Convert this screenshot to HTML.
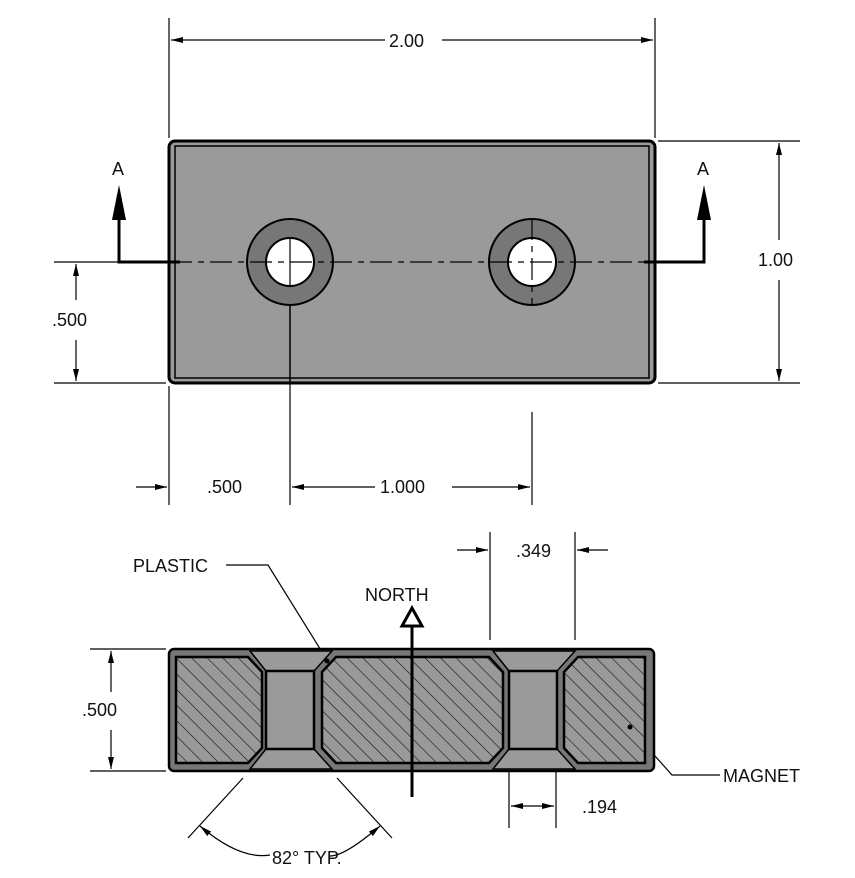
<!DOCTYPE html>
<html><head><style>body{margin:0;background:#fff}svg{display:block}text{font-family:"Liberation Sans",sans-serif;font-size:18px;fill:#111}</style></head><body>
<svg width="855" height="878" viewBox="0 0 855 878" xmlns="http://www.w3.org/2000/svg">
<defs>
<marker id="ar" viewBox="0 0 12 6" refX="12" refY="3" markerWidth="12" markerHeight="6" orient="auto-start-reverse" markerUnits="userSpaceOnUse"><path d="M0,0L12,3L0,6z" fill="#000"/></marker>
<pattern id="h" patternUnits="userSpaceOnUse" width="11" height="11" patternTransform="rotate(-45)"><rect width="11" height="11" fill="#999"/><line x1="0" y1="0" x2="0" y2="11" stroke="#111" stroke-width="1.2"/></pattern>
</defs>
<g stroke="#000" fill="none" stroke-width="1.2">
<line x1="169" y1="18" x2="169" y2="138"/><line x1="655" y1="18" x2="655" y2="138"/>
<line x1="171" y1="40" x2="385" y2="40" marker-start="url(#ar)"/><line x1="442" y1="40" x2="653" y2="40" marker-end="url(#ar)"/>
<line x1="658" y1="141" x2="800" y2="141"/><line x1="658" y1="383" x2="800" y2="383"/>
<line x1="779" y1="143" x2="779" y2="240" marker-start="url(#ar)"/><line x1="779" y1="280" x2="779" y2="381" marker-end="url(#ar)"/>
<line x1="54" y1="262" x2="166" y2="262"/><line x1="54" y1="383" x2="166" y2="383"/>
<line x1="76" y1="264" x2="76" y2="300" marker-start="url(#ar)"/><line x1="76" y1="340" x2="76" y2="381" marker-end="url(#ar)"/>
<line x1="169" y1="386" x2="169" y2="505"/><line x1="290" y1="305" x2="290" y2="505"/><line x1="532" y1="412" x2="532" y2="505"/>
<line x1="136" y1="487" x2="167" y2="487" marker-end="url(#ar)"/>
<line x1="292" y1="487" x2="375" y2="487" marker-start="url(#ar)"/><line x1="452" y1="487" x2="530" y2="487" marker-end="url(#ar)"/>
</g>
<rect x="169" y="141" width="486" height="242" rx="6" fill="#9a9a9a" stroke="#000" stroke-width="3"/>
<rect x="175" y="146" width="474" height="232" fill="none" stroke="#000" stroke-width="1.5"/>
<g stroke="#000" stroke-width="2">
<circle cx="290" cy="262" r="43" fill="#777"/><circle cx="290" cy="262" r="24" fill="#fff"/>
<circle cx="532" cy="262" r="43" fill="#777"/><circle cx="532" cy="262" r="24" fill="#fff"/>
</g>
<line x1="170" y1="262" x2="655" y2="262" stroke="#000" stroke-width="1.2" stroke-dasharray="22,6,6,6"/>
<line x1="290" y1="238" x2="290" y2="286" stroke="#000" stroke-width="1.2"/><line x1="532" y1="218" x2="532" y2="306" stroke="#000" stroke-width="1.2" stroke-dasharray="22,6,6,6"/>
<line x1="290" y1="305" x2="290" y2="383" stroke="#000" stroke-width="1.5"/>
<g stroke="#000" stroke-width="3" fill="none">
<polyline points="119,220 119,262 180,262"/><polyline points="644,262 704,262 704,220"/>
</g>
<path d="M112,220L119,185L126,220z" fill="#000"/><path d="M697,220L704,185L711,220z" fill="#000"/>
<text x="112" y="175">A</text><text x="697" y="175">A</text>
<text x="389" y="47">2.00</text><text x="758" y="266">1.00</text><text x="52" y="326">.500</text>
<text x="207" y="493">.500</text><text x="380" y="493">1.000</text>
<g stroke="#000" stroke-width="1.2" fill="none">
<line x1="490" y1="532" x2="490" y2="640"/><line x1="575" y1="532" x2="575" y2="640"/>
<line x1="457" y1="550" x2="488" y2="550" marker-end="url(#ar)"/><line x1="608" y1="550" x2="577" y2="550" marker-end="url(#ar)"/>
<line x1="90" y1="649" x2="166" y2="649"/><line x1="90" y1="771" x2="166" y2="771"/>
<line x1="111" y1="651" x2="111" y2="692" marker-start="url(#ar)"/><line x1="111" y1="730" x2="111" y2="769" marker-end="url(#ar)"/>
<line x1="509" y1="755" x2="509" y2="828"/><line x1="556" y1="755" x2="556" y2="828"/>
<line x1="511" y1="806" x2="554" y2="806" marker-start="url(#ar)" marker-end="url(#ar)"/>
<line x1="243" y1="778" x2="188" y2="838"/><line x1="337" y1="778" x2="392" y2="838"/>
<path d="M200,826 Q240,860 270,855" marker-start="url(#ar)"/><path d="M380,826 Q345,856 330,856" marker-start="url(#ar)"/>
<polyline points="226,565 268,565 327,660"/>
<polyline points="720,775 672,775 630,728"/>
</g>
<rect x="169" y="649" width="485" height="122" rx="5" fill="#777" stroke="#000" stroke-width="2.5"/>
<g fill="#9a9a9a" stroke="#000" stroke-width="1.5">
<polygon points="250,651 332,651 314,671 314,749 332,769 250,769 266,749 266,671"/>
<polygon points="493,651 575,651 557,671 557,749 575,769 493,769 509,749 509,671"/>
</g>
<g stroke="#000" stroke-width="2.5">
<rect x="266" y="671" width="48" height="78" fill="#9a9a9a"/>
<rect x="509" y="671" width="48" height="78" fill="#9a9a9a"/>
<polygon points="176,657 248,657 262,672 262,748 248,763 176,763" fill="url(#h)"/>
<polygon points="336,657 489,657 503,672 503,748 489,763 336,763 322,748 322,672" fill="url(#h)"/>
<polygon points="578,657 645,657 645,763 578,763 564,748 564,672" fill="url(#h)"/>
</g>
<circle cx="327" cy="661" r="2.5" fill="#000"/><circle cx="630" cy="727" r="2.5" fill="#000"/>
<line x1="412" y1="627" x2="412" y2="797" stroke="#000" stroke-width="3"/>
<path d="M402,626L412,608L422,626z" fill="#fff" stroke="#000" stroke-width="3"/>
<text x="133" y="572">PLASTIC</text><text x="365" y="601">NORTH</text><text x="516" y="557">.349</text>
<text x="82" y="716">.500</text><text x="723" y="782">MAGNET</text><text x="582" y="813">.194</text>
<text x="272" y="864">82° TYP.</text>
</svg>
</body></html>
